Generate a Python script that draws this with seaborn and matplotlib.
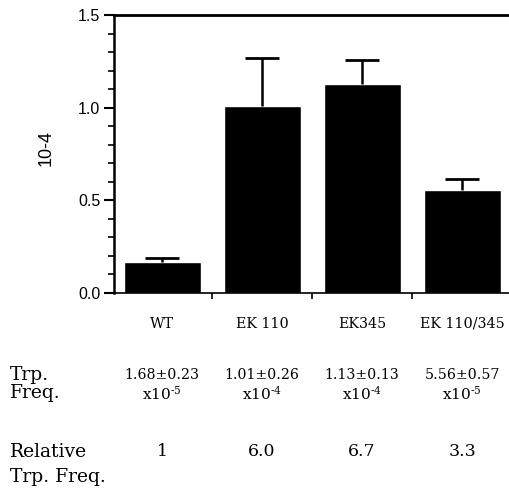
import numpy as np
import pandas as pd
import matplotlib
matplotlib.use("Agg")
import matplotlib.pyplot as plt
import matplotlib.transforms as mtransforms
import seaborn as sns

# data (units of 10^-4)
strains = ["WT", "EK 110", "EK345", "EK 110/345"]
freq = [0.168, 1.01, 1.13, 0.556]
freq_err = [0.023, 0.26, 0.13, 0.057]
freq_text = ["1.68\u00b10.23", "1.01\u00b10.26", "1.13\u00b10.13", "5.56\u00b10.57"]
freq_exp = ["-5", "-4", "-4", "-5"]
relative = ["1", "6.0", "6.7", "3.3"]

sns.set_style("ticks")
plt.rcParams["font.family"] = ["Liberation Sans", "DejaVu Sans"]
plt.rcParams["text.color"] = "black"
plt.rcParams["axes.labelcolor"] = "black"
plt.rcParams["xtick.color"] = "black"
plt.rcParams["ytick.color"] = "black"
serif = ["DejaVu Serif"]

df = pd.DataFrame({"strain": strains, "freq": freq})
tops = np.array(freq) + np.array(freq_err)

fig = plt.figure(figsize=(5.09, 4.88), dpi=100)
ax = fig.add_axes([0.224, 0.3996, 0.776, 0.5696])

sns.barplot(data=df, x="strain", y="freq", color="black", width=0.77,
            saturation=1, errorbar=None, ax=ax)
# one-sided error bars: stem from bar top, cap on top only
ax.vlines(range(len(strains)), freq, tops, colors="black", linewidth=1.8)
ax.plot(range(len(strains)), tops, linestyle="none", marker="_",
        markersize=25, markeredgewidth=2, color="black")

ax.set_xlim(-0.48, 3.47)
ax.set_ylim(0, 1.5)
ax.set_yticks([0, 0.5, 1.0, 1.5])
ax.set_yticklabels(["0.0", "0.5", "1.0", "1.5"])
ax.set_yticks(np.arange(0, 1.51, 0.1), minor=True)
ax.set_xticks([0.5, 1.5, 2.5], minor=True)
ax.tick_params(axis="y", which="major", direction="out", length=7, width=1.5,
               labelsize=11.5, pad=3)
ax.tick_params(axis="y", which="minor", direction="out", length=4, width=1.2)
ax.tick_params(axis="x", which="major", length=0, pad=17)
ax.tick_params(axis="x", which="minor", direction="out", length=4, width=1.2)
for lab in ax.get_xticklabels():
    lab.set_family(serif)
    lab.set_fontsize(10.3)
ax.set_xlabel("")
ax.set_ylabel("10-4", fontsize=13, va="center")
ax.yaxis.set_label_coords(-0.171, 0.52)

ax.spines["right"].set_visible(False)
for side, lw in [("top", 2), ("left", 1.8), ("bottom", 1.2)]:
    ax.spines[side].set_linewidth(lw)
    ax.spines[side].set_color("black")

# table under the bars
trans = mtransforms.blended_transform_factory(ax.transData, fig.transFigure)
for i in range(len(strains)):
    ax.text(i, 1 - 375 / 488, freq_text[i], transform=trans, ha="center",
            va="center", family=serif, fontsize=10.2)
    ax.text(i, 1 - 394 / 488, "x10$^{\\text{" + freq_exp[i] + "}}$", transform=trans,
            ha="center", va="center", family=serif, fontsize=11,
            math_fontfamily="dejavuserif")
    ax.text(i, 1 - 452 / 488, relative[i], transform=trans, ha="center",
            va="center", family=serif, fontsize=12.5)

for label, y in [("Trp.", 375), ("Freq.", 393), ("Relative", 452), ("Trp. Freq.", 477)]:
    fig.text(10 / 509, 1 - y / 488, label, ha="left", va="center",
             family=serif, fontsize=13.5)

fig.savefig("out.png", dpi=100)
